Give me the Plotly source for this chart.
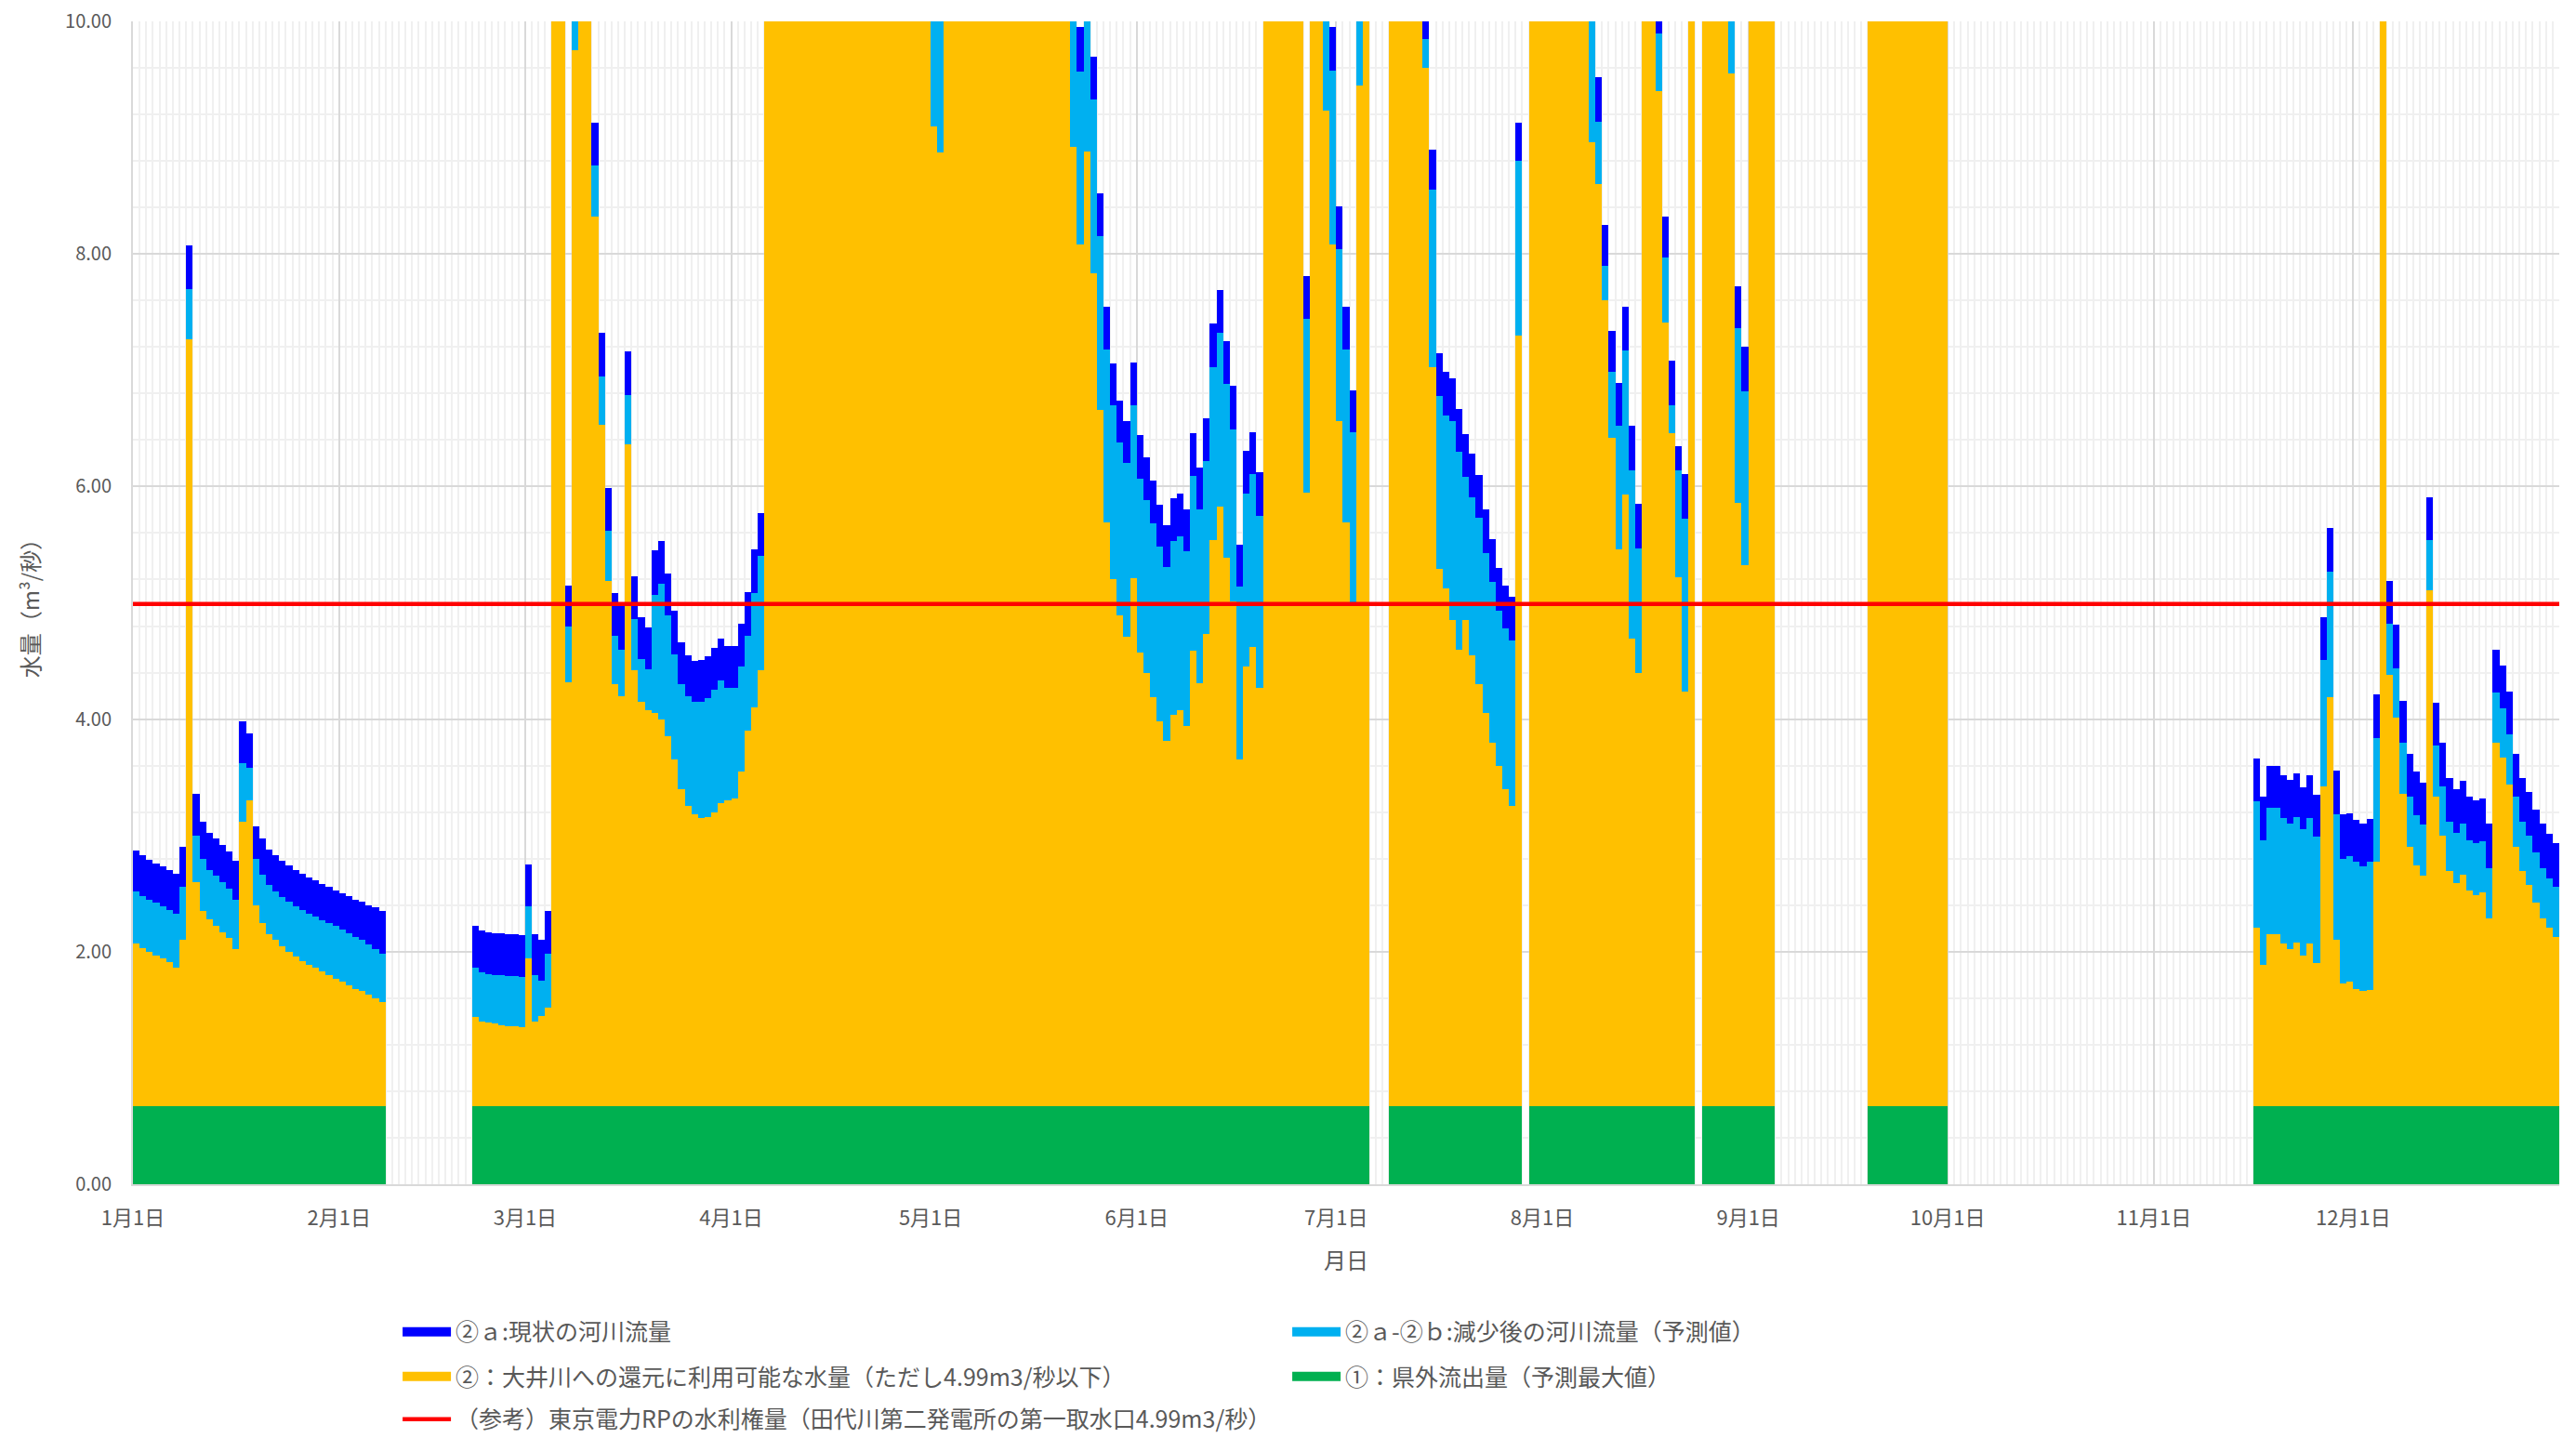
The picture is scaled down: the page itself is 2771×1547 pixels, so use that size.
import plotly.graph_objects as go

T = 12.0   # value above the 10.00 axis top (bar clipped by the axis)
N = None   # no data for that day

MONTH_LABELS = ["1月1日", "2月1日", "3月1日", "4月1日", "5月1日", "6月1日",
                "7月1日", "8月1日", "9月1日", "10月1日", "11月1日", "12月1日"]
MONTH_LENGTHS = [31, 28, 31, 30, 31, 30, 31, 31, 30, 31, 30, 31]

OUTFLOW = 0.67        # ①：県外流出量（予測最大値）
WATER_RIGHT = 4.99    # （参考）東京電力RPの水利権量

SEP = [T, T, T, T, N, N, N, N, N, N,
       N, N, N, N, N, N, N, N, T, T,
       T, T, T, T, T, T, T, T, T, T]
OCT = [N, N, N, N, N, N, N, N, N, N,
       N, N, N, N, N, N, N, N, N, N,
       N, N, N, N, N, N, N, N, N, N,
       N]

# ②ａ: current river flow (top of the dark-blue part), one list per month
current_flow = [
    [2.87, 2.83, 2.79, 2.76, 2.73, 2.70, 2.67, 2.90, 8.07, 3.36,
     3.12, 3.02, 2.97, 2.92, 2.86, 2.78, 3.98, 3.88, 3.08, 2.97,
     2.88, 2.83, 2.78, 2.74, 2.70, 2.67, 2.64, 2.61, 2.58, 2.56,
     2.53],
    [2.50, 2.48, 2.45, 2.43, 2.40, 2.38, 2.35, N, N, N,
     N, N, N, N, N, N, N, N, N, N,
     2.22, 2.18, 2.17, 2.16, 2.16, 2.15, 2.15, 2.14],
    [2.75, 2.15, 2.10, 2.35, T, T, 5.15, 10.6, T, T,
     9.13, 7.32, 5.99, 5.08, 4.97, 7.16, 5.23, 4.88, 4.79, 5.45,
     5.53, 5.25, 4.93, 4.66, 4.55, 4.50, 4.51, 4.54, 4.61, 4.69,
     4.63],
    [4.63, 4.82, 5.09, 5.46, 5.77, T, T, T, T, T,
     T, T, T, T, T, T, T, T, T, T,
     T, T, T, T, T, T, T, T, T, T],
    [11.0, 10.8, T, T, T, T, T, T, T, T,
     T, T, T, T, T, T, T, T, T, T,
     T, 10.5, 9.95, 10.4, 9.70, 8.52, 7.55, 7.06, 6.74, 6.56,
     7.07],
    [6.44, 6.25, 6.05, 5.84, 5.67, 5.90, 5.94, 5.80, 6.46, 6.16,
     6.59, 7.40, 7.69, 7.25, 6.87, 5.50, 6.31, 6.47, 6.12, T,
     T, T, T, T, T, 7.81, T, T, 10.6, 9.95],
    [8.41, 7.55, 6.83, 10.7, T, N, N, N, T, T,
     T, T, T, 10.05, 8.90, 7.15, 6.99, 6.93, 6.67, 6.45,
     6.28, 6.10, 5.80, 5.55, 5.30, 5.15, 5.05, 9.13, N, T,
     T],
    [T, T, T, T, T, T, T, 10.6, 9.52, 8.25,
     7.34, 6.89, 7.55, 6.52, 5.85, T, T, 10.05, 8.32, 7.08,
     6.35, 6.11, T, N, T, T, T, T, 10.6, 7.72,
     7.20],
    SEP,
    OCT,
    [N, N, N, N, N, N, N, N, N, N,
     N, N, N, N, N, 3.66, 3.33, 3.60, 3.60, 3.52,
     3.48, 3.53, 3.41, 3.52, 3.35, 4.88, 5.64, 3.56, 3.18, 3.19],
    [3.13, 3.10, 3.14, 4.21, T, 5.19, 4.81, 4.16, 3.70, 3.55,
     3.45, 5.91, 4.14, 3.80, 3.49, 3.40, 3.47, 3.33, 3.30, 3.32,
     3.10, 4.60, 4.46, 4.24, 3.70, 3.49, 3.37, 3.22, 3.10, 3.01,
     2.93],
]

# ②ａ-②ｂ: reduced river flow (top of the light-blue part)
reduced_flow = [
    [2.52, 2.48, 2.45, 2.42, 2.39, 2.36, 2.33, 2.56, 7.70, 3.00,
     2.80, 2.70, 2.65, 2.60, 2.54, 2.45, 3.62, 3.58, 2.80, 2.66,
     2.57, 2.52, 2.47, 2.43, 2.39, 2.36, 2.33, 2.30, 2.27, 2.25,
     2.22],
    [2.19, 2.16, 2.13, 2.10, 2.06, 2.02, 1.98, N, N, N,
     N, N, N, N, N, N, N, N, N, N,
     1.86, 1.82, 1.81, 1.80, 1.80, 1.79, 1.79, 1.78],
    [2.39, 1.80, 1.75, 1.98, T, T, 4.80, 10.3, T, T,
     8.76, 6.95, 5.62, 4.72, 4.60, 6.79, 4.86, 4.52, 4.43, 5.07,
     5.16, 4.89, 4.56, 4.30, 4.20, 4.15, 4.15, 4.18, 4.25, 4.33,
     4.27],
    [4.27, 4.45, 4.72, 5.08, 5.40, T, T, T, T, T,
     T, T, T, T, T, T, T, T, T, T,
     T, T, T, T, T, T, T, T, T, T],
    [10.5, 10.3, T, T, T, T, T, T, T, T,
     T, T, T, T, T, T, T, T, T, T,
     T, 10.2, 9.57, 10.1, 9.33, 8.15, 7.18, 6.70, 6.38, 6.20,
     6.70],
    [6.07, 5.88, 5.68, 5.48, 5.31, 5.53, 5.57, 5.44, 6.09, 5.80,
     6.22, 7.03, 7.32, 6.88, 6.49, 5.14, 5.94, 6.11, 5.75, T,
     T, T, T, T, T, 7.44, T, T, 10.3, 9.58],
    [8.04, 7.18, 6.47, 10.4, T, N, N, N, T, T,
     T, T, T, 9.85, 8.55, 6.78, 6.61, 6.56, 6.30, 6.08,
     5.91, 5.73, 5.43, 5.18, 4.93, 4.78, 4.68, 8.80, N, T,
     T],
    [T, T, T, T, T, T, T, 10.3, 9.14, 7.90,
     6.99, 6.52, 7.17, 6.14, 5.47, T, T, 9.90, 7.97, 6.70,
     6.14, 5.72, T, N, T, T, T, T, 10.3, 7.36,
     6.82],
    SEP,
    OCT,
    [N, N, N, N, N, N, N, N, N, N,
     N, N, N, N, N, 3.29, 2.96, 3.24, 3.24, 3.15,
     3.10, 3.16, 3.05, 3.15, 2.99, 4.51, 5.27, 3.18, 2.80, 2.82],
    [2.77, 2.73, 2.77, 3.84, T, 4.82, 4.44, 3.80, 3.33, 3.17,
     3.09, 5.54, 3.77, 3.42, 3.12, 3.02, 3.10, 2.96, 2.93, 2.95,
     2.72, 4.23, 4.09, 3.87, 3.33, 3.12, 3.00, 2.85, 2.72, 2.63,
     2.56],
]

# ②: top of the water usable for return to the Oi River (top of the orange part)
available_top = [
    [2.07, 2.03, 2.00, 1.97, 1.94, 1.91, 1.86, 2.10, 7.27, 2.60,
     2.35, 2.28, 2.22, 2.17, 2.12, 2.02, 3.12, 3.30, 2.40, 2.25,
     2.15, 2.10, 2.05, 2.00, 1.96, 1.92, 1.89, 1.86, 1.83, 1.80,
     1.77],
    [1.74, 1.71, 1.68, 1.66, 1.63, 1.60, 1.57, N, N, N,
     N, N, N, N, N, N, N, N, N, N,
     1.44, 1.40, 1.39, 1.38, 1.37, 1.36, 1.36, 1.35],
    [1.94, 1.40, 1.45, 1.52, T, T, 4.32, 9.75, T, T,
     8.32, 6.53, 5.19, 4.30, 4.20, 6.36, 4.42, 4.15, 4.08, 4.05,
     4.00, 3.85, 3.65, 3.40, 3.25, 3.18, 3.15, 3.16, 3.20, 3.28,
     3.30],
    [3.32, 3.55, 3.90, 4.10, 4.42, T, T, T, T, T,
     T, T, T, T, T, T, T, T, T, T,
     T, T, T, T, T, T, T, T, T, T],
    [9.10, 8.87, T, T, T, T, T, T, T, T,
     T, T, T, T, T, T, T, T, T, T,
     T, 8.92, 8.08, 8.88, 7.83, 6.66, 5.69, 5.20, 4.89, 4.71,
     5.21],
    [4.57, 4.40, 4.19, 3.98, 3.81, 4.04, 4.08, 3.94, 4.59, 4.31,
     4.73, 5.54, 5.83, 5.39, 5.01, 3.65, 4.45, 4.62, 4.27, T,
     T, T, T, T, T, 5.95, T, T, 9.23, 8.08],
    [6.56, 5.69, 5.00, 9.45, T, N, N, N, T, T,
     T, T, T, 9.60, 7.03, 5.29, 5.12, 4.85, 4.60, 4.85,
     4.55, 4.30, 4.05, 3.80, 3.60, 3.40, 3.25, 7.30, N, T,
     T],
    [T, T, T, T, T, T, T, 8.96, 8.60, 7.60,
     6.42, 5.46, 5.93, 4.69, 4.40, T, T, 9.40, 7.41, 6.46,
     5.22, 4.24, T, N, T, T, T, T, 9.55, 5.86,
     5.32],
    SEP,
    OCT,
    [N, N, N, N, N, N, N, N, N, N,
     N, N, N, N, N, 2.21, 1.89, 2.15, 2.15, 2.07,
     2.02, 2.08, 1.97, 2.07, 1.90, 3.42, 4.19, 2.10, 1.73, 1.74],
    [1.68, 1.66, 1.67, 2.77, T, 4.38, 4.01, 3.36, 2.90, 2.74,
     2.65, 5.11, 3.33, 3.00, 2.69, 2.59, 2.66, 2.53, 2.49, 2.51,
     2.29, 3.80, 3.67, 3.44, 2.90, 2.69, 2.57, 2.42, 2.29, 2.21,
     2.13],
]

NAMES = {
    "dark": "②ａ:現状の河川流量",
    "light": "②ａ-②ｂ:減少後の河川流量（予測値）",
    "orange": "②：大井川への還元に利用可能な水量（ただし4.99m3/秒以下）",
    "green": "①：県外流出量（予測最大値）",
    "red": "（参考）東京電力RPの水利権量（田代川第二発電所の第一取水口4.99m3/秒）",
}
COLORS = {"dark": "#0000FF", "light": "#00B0F0", "orange": "#FFC000",
          "green": "#00B050", "red": "#FF0000"}

# ---------------------------------------------------------------------------
problems = []
for name, series in [("current", current_flow), ("reduced", reduced_flow), ("available", available_top)]:
    for k, (m, L) in enumerate(zip(series, MONTH_LENGTHS)):
        if len(m) != L:
            problems.append(f"{name} month {k + 1}: {len(m)} != {L}")
if problems:
    raise ValueError("; ".join(problems))


def flat(series):
    return [v for month in series for v in month]


cur, red, avl = flat(current_flow), flat(reduced_flow), flat(available_top)
n_days = len(cur)
days = list(range(n_days))
month_starts = [sum(MONTH_LENGTHS[:k]) for k in range(12)]


def diff(a, b):
    return [None if (x is None or y is None) else x - y for x, y in zip(a, b)]


green_seg = [None if v is None else OUTFLOW for v in avl]
orange_seg = [None if v is None else v - OUTFLOW for v in avl]
light_seg = diff(red, avl)
dark_seg = diff(cur, red)

fig = go.Figure()
for seg, key in [(green_seg, "green"), (orange_seg, "orange"),
                 (light_seg, "light"), (dark_seg, "dark")]:
    fig.add_trace(go.Bar(x=days, y=seg, width=1, marker=dict(color=COLORS[key], line=dict(width=0)),
                         name=NAMES[key], showlegend=False, hoverinfo="skip"))

fig.add_trace(go.Scatter(x=[days[0] - 0.5, days[-1] + 0.5], y=[WATER_RIGHT, WATER_RIGHT],
                         mode="lines", line=dict(color=COLORS["red"], width=4.5),
                         showlegend=False, hoverinfo="skip"))

# legend entries (three rows, two columns)
legend_rows = [("legend", ["dark", "light"]), ("legend2", ["orange", "green"]), ("legend3", ["red"])]
for leg, keys in legend_rows:
    for key in keys:
        fig.add_trace(go.Scatter(x=[None], y=[None], mode="lines", name=NAMES[key],
                                 line=dict(color=COLORS[key], width=4.5 if key == "red" else 16),
                                 legend=leg, showlegend=True))

FONT = "Noto Sans CJK JP"
TXT = "#595959"
leg_common = dict(orientation="h", xref="container", yref="container",
                  xanchor="left", yanchor="middle", x=0.1516,
                  entrywidth=890, entrywidthmode="pixels", itemwidth=52, traceorder="normal",
                  font=dict(family=FONT, size=25, color=TXT), bgcolor="rgba(0,0,0,0)",
                  itemclick=False, itemdoubleclick=False)

fig.update_layout(
    width=2771, height=1547,
    margin=dict(l=135, r=26, t=15, b=281, autoexpand=False),
    paper_bgcolor="white", plot_bgcolor="white",
    barmode="stack", bargap=0,
    font=dict(family=FONT, color=TXT, size=20),
    legend=dict(leg_common, y=0.0789),
    legend2=dict(leg_common, y=0.0478),
    legend3=dict(leg_common, y=0.0181),
    xaxis=dict(
        range=[-0.5, n_days - 0.5], automargin=False,
        tickmode="array", tickvals=[m - 0.5 for m in month_starts], ticktext=MONTH_LABELS,
        ticks="", ticklabelstandoff=16, ticklabeloverflow="allow",
        tickfont=dict(family=FONT, size=22, color=TXT),
        showgrid=True, gridcolor="#D9D9D9", gridwidth=2,
        minor=dict(tickmode="linear", tick0=-0.5, dtick=1, showgrid=True,
                   gridcolor="#F0F0F0", gridwidth=2, ticks=""),
        showline=True, linecolor="#D9D9D9", linewidth=2,
        zeroline=False,
        title=dict(text="月日", standoff=25, font=dict(family=FONT, size=24, color=TXT)),
    ),
    yaxis=dict(
        range=[0, 10], automargin=False, tickmode="linear", tick0=0, dtick=2, tickformat=".2f",
        ticks="", ticklabelstandoff=17, ticklabeloverflow="allow",
        tickfont=dict(family=FONT, size=20, color=TXT),
        showgrid=True, gridcolor="#D9D9D9", gridwidth=2,
        minor=dict(tickmode="linear", tick0=0, dtick=0.4, showgrid=True,
                   gridcolor="#F0F0F0", gridwidth=2, ticks=""),
        showline=True, linecolor="#D9D9D9", linewidth=2,
        zeroline=False,
        title=dict(text="水量（m³/秒）", standoff=21, font=dict(family=FONT, size=24, color=TXT)),
    ),
)

fig.write_html("out.html")
